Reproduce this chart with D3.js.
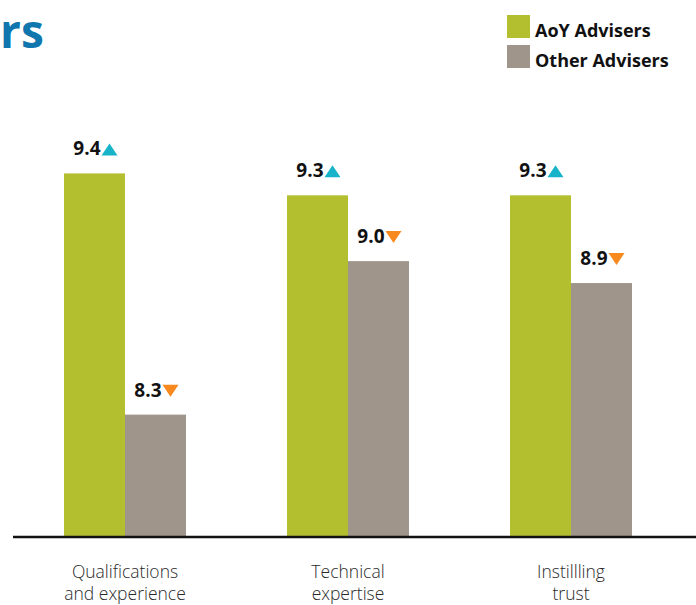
<!DOCTYPE html>
<html>
<head>
<meta charset="utf-8">
<script src="https://cdn.jsdelivr.net/npm/d3@7/dist/d3.min.js"></script>
<style>
  html, body { margin: 0; padding: 0; background: #fff; }
  svg { display: block; }
</style>
</head>
<body>
<script>
// Ratings by attribute, AoY advisers vs other advisers
const categories = [["Qualifications", "and experience"], ["Technical", "expertise"], ["Instillling", "trust"]];
const seriesNames = ["AoY Advisers", "Other Advisers"];
const aoyValues = [9.4, 9.3, 9.3];
const otherValues = [8.3, 9.0, 8.9];
const directions = [["up", "down"], ["up", "down"], ["up", "down"]];

const W = 696, H = 605;
const colors = ["#b3bf2f", "#9f958a"];
const arrowColors = { up: "#17b4c9", down: "#f7891f" };
const baseY = 537;

const svg = d3.select("body").append("svg").attr("width", W).attr("height", H);

// Group centres and the two bars within each group
const x = d3.scalePoint().domain(d3.range(categories.length)).range([125, 571]);
const xs = d3.scaleBand().domain(seriesNames).range([-61, 61]).padding(0);

// Value axis starts above zero so the differences are visible
const y = d3.scaleLinear().domain([7.742, 9.4]).range([baseY, baseY - 363.6]);

const rows = categories.map((c, i) => ({
  i,
  values: [aoyValues[i], otherValues[i]].map((v, k) => ({ v, k, s: seriesNames[k], dir: directions[i][k] }))
}));

const g = svg.selectAll("g.grp").data(rows).join("g")
  .attr("class", "grp")
  .attr("transform", d => `translate(${x(d.i)},0)`);

g.selectAll("rect").data(d => d.values).join("rect")
  .attr("x", d => xs(d.s))
  .attr("width", xs.bandwidth())
  .attr("y", d => y(d.v))
  .attr("height", d => baseY - y(d.v))
  .attr("fill", d => colors[d.k]);

// Value labels with trend triangles
const lab = g.selectAll("g.lab").data(d => d.values).join("g")
  .attr("class", "lab")
  .attr("transform", d => `translate(${xs(d.s) + xs.bandwidth() / 2},${y(d.v) - 18})`);

lab.append("text")
  .attr("x", 6)
  .attr("text-anchor", "end")
  .attr("font-family", "'Open Sans', 'Noto Sans', sans-serif")
  .attr("font-weight", 700)
  .attr("font-size", 19)
  .attr("fill", "#111")
  .text(d => d.v.toFixed(1));

lab.append("path")
  .attr("d", d => d.dir === "up"
    ? "M7,0 L23,0 L15,-12 Z"
    : "M7,-12 L23,-12 L15,0 Z")
  .attr("fill", d => arrowColors[d.dir]);

// Baseline
svg.append("line")
  .attr("x1", 13).attr("x2", W)
  .attr("y1", baseY).attr("y2", baseY)
  .attr("stroke", "#111").attr("stroke-width", 2.5);

// Category labels
const cl = svg.selectAll("text.cat").data(rows).join("text")
  .attr("class", "cat")
  .attr("text-anchor", "middle")
  .attr("font-family", "'Open Sans', 'Noto Sans', sans-serif")
  .attr("font-weight", 300)
  .attr("font-size", 17.5)
  .attr("fill", "#2a2a2a");
cl.selectAll("tspan").data(d => categories[d.i].map(t => ({ t, c: x(d.i) }))).join("tspan")
  .attr("x", d => d.c)
  .attr("y", (d, j) => 578 + j * 22)
  .text(d => d.t);

// Title fragment
svg.append("text")
  .attr("x", 0).attr("y", 48)
  .attr("text-anchor", "start")
  .attr("font-family", "'Open Sans', 'Noto Sans', sans-serif")
  .attr("font-weight", 700)
  .attr("font-size", 46)
  .attr("fill", "#0f76ae")
  .text("rs");

// Legend
const leg = svg.selectAll("g.leg").data(seriesNames).join("g")
  .attr("class", "leg")
  .attr("transform", (d, i) => `translate(507,${15 + i * 30})`);
leg.append("rect").attr("width", 23).attr("height", 23).attr("fill", (d, i) => colors[i]);
leg.append("text")
  .attr("x", 28).attr("y", 22)
  .attr("font-family", "'Open Sans', 'Noto Sans', sans-serif")
  .attr("font-weight", 700)
  .attr("font-size", 18)
  .attr("fill", "#111")
  .text(d => d);
</script>
</body>
</html>
